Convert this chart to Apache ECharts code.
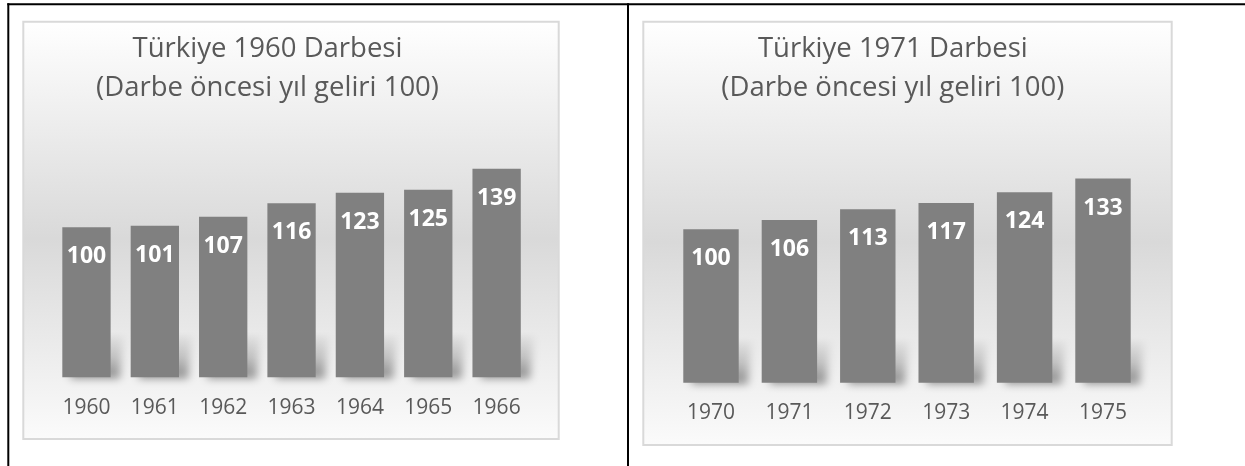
<!DOCTYPE html>
<html>
<head>
<meta charset="utf-8">
<script src="https://cdn.jsdelivr.net/npm/echarts@6/dist/echarts.min.js"></script>
<style>
  html, body { margin: 0; padding: 0; background: #ffffff; }
  #chart { width: 1245px; height: 466px; }
</style>
</head>
<body>
<div id="chart"></div>
<script>
// ---- data ----
const titleA = 'Türkiye 1960 Darbesi\n(Darbe öncesi yıl geliri 100)';
const categoriesA = ['1960', '1961', '1962', '1963', '1964', '1965', '1966'];
const valuesA = [100, 101, 107, 116, 123, 125, 139];

const titleB = 'Türkiye 1971 Darbesi\n(Darbe öncesi yıl geliri 100)';
const categoriesB = ['1970', '1971', '1972', '1973', '1974', '1975'];
const valuesB = [100, 106, 113, 117, 124, 133];

// ---- styling ----
const FONT = 'Open Sans';
const TEXT_GRAY = '#595959';
const BAR_GRAY = '#808080';
const BAR_FRACTION = 0.707;
const OFF = 3000; // draw shadow shape off-screen, show only its blurred shadow

function boxGradient() {
  return new echarts.graphic.LinearGradient(0, 0, 0, 1, [
    { offset: 0, color: '#ffffff' },
    { offset: 0.52, color: '#d9d9d9' },
    { offset: 1, color: '#fbfbfb' }
  ]);
}

function shadowRender(params, api) {
  const base = api.coord([api.value(0), 0]);
  const bandW = api.size([1, 0])[0];
  const bw = bandW * BAR_FRACTION;
  const xL = base[0] - bw / 2;
  const xR = base[0] + bw / 2;
  const yB = base[1];
  return {
    type: 'polygon',
    shape: {
      points: [
        [xL + 8 - OFF, yB + 1],
        [xR + 9 - OFF, yB + 1],
        [xR + 13 - OFF, yB - 46],
        [xL + 12 - OFF, yB - 46]
      ]
    },
    style: {
      fill: new echarts.graphic.LinearGradient(0, 0, 0, 1, [
        { offset: 0, color: 'rgba(0,0,0,0)' },
        { offset: 0.55, color: 'rgba(0,0,0,0.45)' },
        { offset: 1, color: 'rgba(0,0,0,1)' }
      ]),
      shadowBlur: 8,
      shadowOffsetX: OFF,
      shadowOffsetY: 0,
      shadowColor: 'rgba(0,0,0,0.42)'
    }
  };
}

function barSeries(idx, values) {
  return {
    type: 'bar',
    xAxisIndex: idx,
    yAxisIndex: idx,
    data: values,
    barWidth: (BAR_FRACTION * 100) + '%',
    z: 3,
    itemStyle: { color: BAR_GRAY },
    label: {
      show: true,
      position: 'insideTop',
      distance: 18,
      color: '#ffffff',
      fontFamily: FONT,
      fontWeight: 'bold',
      fontSize: 23,
      textBorderWidth: 0
    },
    emphasis: { disabled: true }
  };
}

function shadowSeries(idx, values) {
  return {
    type: 'custom',
    xAxisIndex: idx,
    yAxisIndex: idx,
    z: 1,
    silent: true,
    clip: false,
    data: values.map((v, i) => [i, v]),
    renderItem: shadowRender
  };
}

function xAxisFor(idx, cats) {
  return {
    gridIndex: idx,
    type: 'category',
    data: cats,
    axisLine: { show: false },
    axisTick: { show: false },
    splitLine: { show: false },
    axisLabel: {
      color: TEXT_GRAY,
      fontFamily: FONT,
      fontSize: 21,
      margin: 20
    }
  };
}

function yAxisFor(idx) {
  return { gridIndex: idx, type: 'value', min: 0, max: 160, show: false };
}

function titleFor(text, cx) {
  return {
    text: text,
    left: cx,
    top: 29,
    padding: 0,
    textAlign: 'center',
    textStyle: {
      fontFamily: FONT,
      fontSize: 27.5,
      fontWeight: 'normal',
      color: TEXT_GRAY,
      lineHeight: 39.5
    }
  };
}

const chart = echarts.init(document.getElementById('chart'), null, { renderer: 'canvas' });

chart.setOption({
  animation: false,
  backgroundColor: '#ffffff',
  title: [titleFor(titleA, 267.5), titleFor(titleB, 892.8)],
  grid: [
    { left: 52.3, top: 137.3, width: 478.5, height: 240 },
    { left: 671.8, top: 137.1, width: 470.4, height: 245.6 }
  ],
  xAxis: [xAxisFor(0, categoriesA), xAxisFor(1, categoriesB)],
  yAxis: [yAxisFor(0), yAxisFor(1)],
  series: [
    shadowSeries(0, valuesA),
    barSeries(0, valuesA),
    shadowSeries(1, valuesB),
    barSeries(1, valuesB)
  ],
  graphic: [
    {
      type: 'rect', z: -10, silent: true,
      shape: { x: 23.3, y: 21.7, width: 535.4, height: 417.3 },
      style: { fill: boxGradient(), stroke: '#d9d9d9', lineWidth: 2 }
    },
    {
      type: 'rect', z: -10, silent: true,
      shape: { x: 643.3, y: 21.7, width: 528.4, height: 423.3 },
      style: { fill: boxGradient(), stroke: '#d9d9d9', lineWidth: 2 }
    },
    {
      type: 'line', z: 100, silent: true,
      shape: { x1: 7.3, y1: 4.3, x2: 1245, y2: 4.3 },
      style: { stroke: '#000000', lineWidth: 2 }
    },
    {
      type: 'line', z: 100, silent: true,
      shape: { x1: 8.3, y1: 3.3, x2: 8.3, y2: 466 },
      style: { stroke: '#000000', lineWidth: 2 }
    },
    {
      type: 'line', z: 100, silent: true,
      shape: { x1: 628, y1: 3.3, x2: 628, y2: 466 },
      style: { stroke: '#000000', lineWidth: 2 }
    }
  ]
});
</script>
</body>
</html>
